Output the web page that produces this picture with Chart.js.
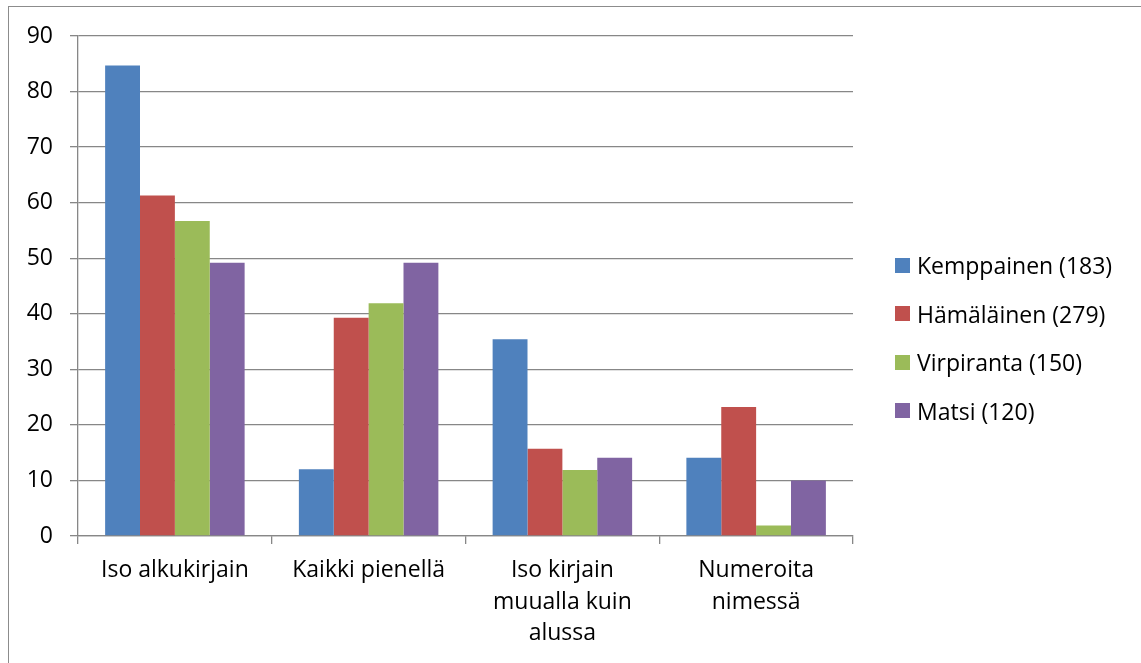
<!DOCTYPE html>
<html>
<head>
<meta charset="utf-8">
<script src="https://cdn.jsdelivr.net/npm/chart.js@4"></script>
<style>
  html, body { margin: 0; padding: 0; background: #fff; }
  body { width: 1141px; height: 663px; position: relative; overflow: hidden; font-family: "Open Sans", sans-serif; }
  #frame { position: absolute; left: 8px; top: 6px; width: 1200px; height: 700px; border-top: 1.5px solid #8c8c8c; border-left: 1.5px solid #8c8c8c; }
  #wrap { position: absolute; left: 0; top: 0; width: 1141px; height: 663px; }
  #legend { position: absolute; left: 895px; top: 253px; list-style: none; margin: 0; padding: 0; }
  #legend li { display: flex; align-items: center; height: 24px; margin-bottom: 24.5px; font-size: 23px; color: #000; white-space: nowrap; }
  #legend span.box { display: inline-block; width: 15px; height: 15px; margin-right: 7px; }
</style>
</head>
<body>
<div id="frame"></div>
<div id="wrap"><canvas id="chart" width="1141" height="663"></canvas></div>
<ul id="legend"></ul>
<script>
// categories (multi-line labels as shown under the axis)
const categories = [
  "Iso alkukirjain",
  "Kaikki pienellä",
  ["Iso kirjain", "muualla kuin", "alussa"],
  ["Numeroita", "nimessä"]
];

const seriesNames = ["Kemppainen (183)", "Hämäläinen (279)", "Virpiranta (150)", "Matsi (120)"];
const seriesColors = ["#4F81BD", "#C0504D", "#9BBB59", "#8064A2"];

// percentages per group
const kemppainen = [84.7, 12.0, 35.4, 14.1];
const hamalainen = [61.3, 39.3, 15.7, 23.2];
const virpiranta = [56.7, 41.9, 11.9, 1.9];
const matsi = [49.2, 49.2, 14.1, 10.0];

const yTicks = [0, 10, 20, 30, 40, 50, 60, 70, 80, 90];

const seriesValues = [kemppainen, hamalainen, virpiranta, matsi];
const gridColor = "#878787";
const font = { family: "'Open Sans', sans-serif", size: 23 };

// html legend, built from the chart's own legend items
const htmlLegend = {
  id: "htmlLegend",
  afterUpdate(chart) {
    const ul = document.getElementById("legend");
    ul.innerHTML = "";
    const items = chart.options.plugins.legend.labels.generateLabels(chart);
    items.forEach((item) => {
      const li = document.createElement("li");
      const box = document.createElement("span");
      box.className = "box";
      box.style.background = item.fillStyle;
      li.appendChild(box);
      li.appendChild(document.createTextNode(item.text));
      ul.appendChild(li);
    });
  }
};

new Chart(document.getElementById("chart"), {
  type: "bar",
  data: {
    labels: categories,
    datasets: seriesNames.map((name, i) => ({
      label: name,
      data: seriesValues[i],
      backgroundColor: seriesColors[i],
      borderWidth: 0,
      categoryPercentage: 0.72,
      barPercentage: 1.0
    }))
  },
  options: {
    responsive: false,
    animation: false,
    layout: { padding: { left: 0, top: 36, right: 288, bottom: 0 } },
    plugins: {
      legend: { display: false },
      tooltip: { enabled: false }
    },
    scales: {
      x: {
        offset: true,
        grid: {
          display: true,
          offset: true,
          drawOnChartArea: false,
          drawTicks: true,
          tickLength: 8,
          color: gridColor,
          lineWidth: 1.3
        },
        border: { display: true, color: gridColor, width: 1.3 },
        ticks: {
          color: "#000",
          font: { ...font, lineHeight: 1.39 },
          padding: 10,
          maxRotation: 0,
          autoSkip: false
        },
        afterFit(scale) { scale.height = 127; }
      },
      y: {
        min: 0,
        max: 90,
        afterBuildTicks(scale) { scale.ticks = yTicks.map((v) => ({ value: v })); },
        grid: {
          color: gridColor,
          lineWidth: 1.3,
          drawTicks: true,
          tickLength: 8
        },
        border: { display: true, color: gridColor, width: 1.3 },
        ticks: {
          color: "#000",
          font: font,
          padding: 17
        },
        afterFit(scale) { scale.width = 78; }
      }
    }
  },
  plugins: [htmlLegend]
});
</script>
</body>
</html>
